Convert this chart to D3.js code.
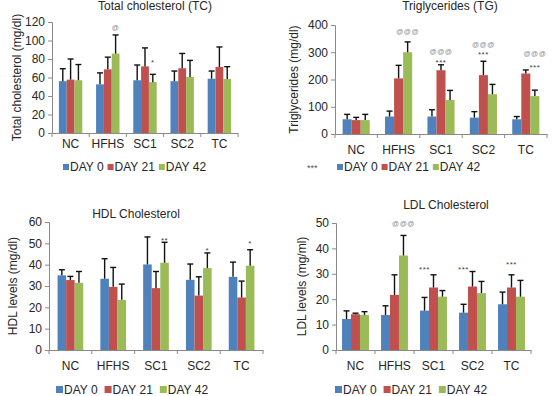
<!DOCTYPE html>
<html>
<head>
<meta charset="utf-8">
<script src="https://cdn.jsdelivr.net/npm/d3@7"></script>
<style>
    body { margin: 0; background: #fff; }
    text { font-family: 'Liberation Sans', Arial, sans-serif; fill: #262626; }
</style>
</head>
<body>
<svg id="mainFrame"></svg>
<script>
// groups and series shared by all four charts
const groups = ['NC', 'HFHS', 'SC1', 'SC2', 'TC']
const days = ['DAY 0', 'DAY 21', 'DAY 42']
const dayColors = ['#4F81BD', '#C0504D', '#9BBB59']

// means per group, in day order [DAY 0, DAY 21, DAY 42]
const tcMeans = [[56, 57.7, 57], [52.6, 68.8, 85.8], [57, 72, 55], [56, 70, 60.5], [58.7, 71.4, 58.4]]
const tcErrors = [[13.5, 22.3, 17], [12.4, 13.2, 20.2], [16.5, 20, 8.4], [11, 16, 18], [8.3, 21.6, 13.3]]
const tcMarks = [['HFHS', 2, '@', 114], ['SC1', 2, '*', 79]]

const tgMeans = [[54, 51, 51], [64, 204, 300], [64, 234, 125], [60, 216, 146], [54, 222, 139]]
const tgErrors = [[18, 10, 21], [20, 48, 38], [25, 20, 35], [22, 51, 36], [10, 13, 22]]
const tgMarks = [['HFHS', 2, '@@@', 375], ['SC1', 1, '@@@', 302], ['SC1', 1, '***', 269],
    ['SC2', 1, '@@@', 327], ['SC2', 1, '***', 302], ['TC', 2, '@@@', 295], ['TC', 2, '***', 253]]

const hdlMeans = [[35, 32.8, 31.5], [33.4, 29.6, 23.5], [40.1, 29, 40.9], [32.9, 25.5, 38.4], [34.3, 24.6, 39.5]]
const hdlErrors = [[2.6, 1.7, 5.3], [9.4, 9.1, 7.4], [12.9, 7.8, 9.6], [7.4, 8.8, 7.1], [6.9, 7.7, 7.5]]
const hdlMarks = [['SC1', 2, '**', 52.6], ['SC2', 2, '*', 47.5], ['TC', 2, '*', 51]]

const ldlMeans = [[12.2, 14.1, 13.8], [13.8, 21.7, 37.2], [15.5, 24.6, 21], [14.7, 25, 22.4], [18, 24.6, 21]]
const ldlErrors = [[3.2, 0.4, 1.3], [3.6, 7.9, 7.9], [5.2, 5, 2.4], [3.3, 5.9, 4.6], [4.8, 5, 6.4]]
const ldlMarks = [['HFHS', 2, '@@@', 49.6], ['SC1', 0, '***', 32.7], ['SC2', 0, '***', 32.7], ['TC', 1, '***', 34.5]]

const svg = d3.select('#mainFrame')
    .attr('width', 554)
    .attr('height', 396)

const panels = [
    {title: 'Total cholesterol (TC)', ylabel: 'Total cholesterol (mg/dl)', means: tcMeans, errors: tcErrors, marks: tcMarks,
        ymax: 120, ystep: 20, xr: [52, 238], yr: [133, 22], titleX: 155, titleY: 10, ylabelX: 17, catY: 148,
        legendX: 63, legendY: 171, sq: 6, gap: 4, frac: 0.63},
    {title: 'Triglycerides (TG)', ylabel: 'Triglycerides (mg/dl)', means: tgMeans, errors: tgErrors, marks: tgMarks,
        ymax: 400, ystep: 100, xr: [335, 547], yr: [134, 25], titleX: 450, titleY: 10, ylabelX: 294, catY: 154,
        legendX: 337, legendY: 171, sq: 6, gap: 4, frac: 0.64, legendNote: '***'},
    {title: 'HDL Cholesterol', ylabel: 'HDL levels (mg/dl)', means: hdlMeans, errors: hdlErrors, marks: hdlMarks,
        ymax: 60, ystep: 10, xr: [49, 263], yr: [350, 222], titleX: 136, titleY: 218, ylabelX: 13, catY: 370,
        legendX: 56, legendY: 394, sq: 7, gap: 7, frac: 0.6},
    {title: 'LDL Cholesterol', ylabel: 'LDL levels (mg/ml)', means: ldlMeans, errors: ldlErrors, marks: ldlMarks,
        ymax: 50, ystep: 10, xr: [336, 531], yr: [350, 223], titleX: 446, titleY: 209, ylabelX: 302, catY: 370,
        legendX: 335, legendY: 394, sq: 7, gap: 7, frac: 0.69}
]

const drawPanel = p => {
    const g = svg.append('g')

    const x0 = d3.scaleBand().domain(groups).range(p.xr)
    const inset = x0.bandwidth() * (1 - p.frac) / 2
    const x1 = d3.scaleBand().domain(d3.range(days.length)).range([inset, x0.bandwidth() - inset])
    const y = d3.scaleLinear().domain([0, p.ymax]).range(p.yr)

    // title and y label
    g.append('text')
        .attr('x', p.titleX).attr('y', p.titleY)
        .attr('text-anchor', 'middle')
        .style('font-size', '12px')
        .text(p.title)

    g.append('text')
        .attr('transform', `translate(${p.ylabelX},${(p.yr[0] + p.yr[1]) / 2}) rotate(-90)`)
        .attr('text-anchor', 'middle')
        .attr('dy', '0.35em')
        .style('font-size', '12px')
        .text(p.ylabel)

    // bars
    const rows = g.selectAll('g.grp')
        .data(groups)
        .join('g')
        .attr('class', 'grp')
        .attr('transform', d => `translate(${x0(d)},0)`)

    rows.selectAll('rect')
        .data((d, i) => p.means[i].map((v, j) => ({j, v, e: p.errors[i][j]})))
        .join('rect')
        .attr('x', d => x1(d.j))
        .attr('width', x1.bandwidth())
        .attr('y', d => y(d.v))
        .attr('height', d => y(0) - y(d.v))
        .attr('fill', d => dayColors[d.j])

    // upper error bars
    const errs = rows.selectAll('g.err')
        .data((d, i) => p.means[i].map((v, j) => ({j, v, e: p.errors[i][j]})))
        .join('g')
        .attr('class', 'err')
        .attr('stroke', '#111')
        .attr('stroke-width', 1.4)

    errs.append('line')
        .attr('x1', d => x1(d.j) + x1.bandwidth() / 2)
        .attr('x2', d => x1(d.j) + x1.bandwidth() / 2)
        .attr('y1', d => y(d.v))
        .attr('y2', d => y(d.v + d.e))

    errs.append('line')
        .attr('x1', d => x1(d.j) + x1.bandwidth() / 2 - 3)
        .attr('x2', d => x1(d.j) + x1.bandwidth() / 2 + 3)
        .attr('y1', d => y(d.v + d.e))
        .attr('y2', d => y(d.v + d.e))

    // significance marks
    g.selectAll('text.mark')
        .data(p.marks)
        .join('text')
        .attr('class', 'mark')
        .attr('x', d => x0(d[0]) + x1(d[1]) + x1.bandwidth() / 2)
        .attr('y', d => y(d[3]))
        .attr('dy', d => d[2][0] === '@' ? '0.35em' : '0.6em')
        .attr('text-anchor', 'middle')
        .style('font-size', d => d[2][0] === '@' ? '7px' : '8px')
        .style('letter-spacing', '0.5px')
        .style('fill', d => d[2][0] === '@' ? '#8c8c8c' : '#444')
        .text(d => d[2])

    // axes
    const yAxis = g.append('g')
        .attr('transform', `translate(${p.xr[0]},0)`)
        .call(d3.axisLeft(y).tickValues(d3.range(0, p.ymax + 1, p.ystep)).tickSize(4).tickPadding(3))
    yAxis.selectAll('text').style('font-size', '12px').attr('font-family', null)

    const xAxis = g.append('g')
        .attr('transform', `translate(0,${p.yr[0]})`)
        .call(d3.axisBottom(x0).tickSize(0).tickPadding(0).tickSizeOuter(0))
    xAxis.selectAll('text')
        .style('font-size', '12px')
        .attr('dy', null)
        .attr('y', p.catY - p.yr[0])
    xAxis.selectAll('line.bound')
        .data(d3.range(groups.length + 1))
        .join('line')
        .attr('class', 'bound')
        .attr('x1', d => p.xr[0] + d * x0.step())
        .attr('x2', d => p.xr[0] + d * x0.step())
        .attr('y1', 0)
        .attr('y2', 4)
    g.selectAll('.domain, .tick line, line.bound').attr('stroke', '#8a8a8a')

    // legend
    const legend = g.append('g')
    if (p.legendNote) {
        legend.append('text')
            .attr('x', p.legendX - 30).attr('y', p.legendY)
            .style('font-size', '9px')
            .style('fill', '#555')
            .text(p.legendNote)
    }
    let lx = p.legendX
    days.forEach((d, i) => {
        legend.append('rect')
            .attr('x', lx).attr('y', p.legendY - p.sq - 1)
            .attr('width', p.sq).attr('height', p.sq)
            .attr('fill', dayColors[i])
        const t = legend.append('text')
            .attr('x', lx + p.sq + 1).attr('y', p.legendY)
            .style('font-size', '12px')
            .text(d)
        lx += p.sq + 1 + t.node().getComputedTextLength() + p.gap
    })
}

panels.forEach(drawPanel)
</script>
</body>
</html>
